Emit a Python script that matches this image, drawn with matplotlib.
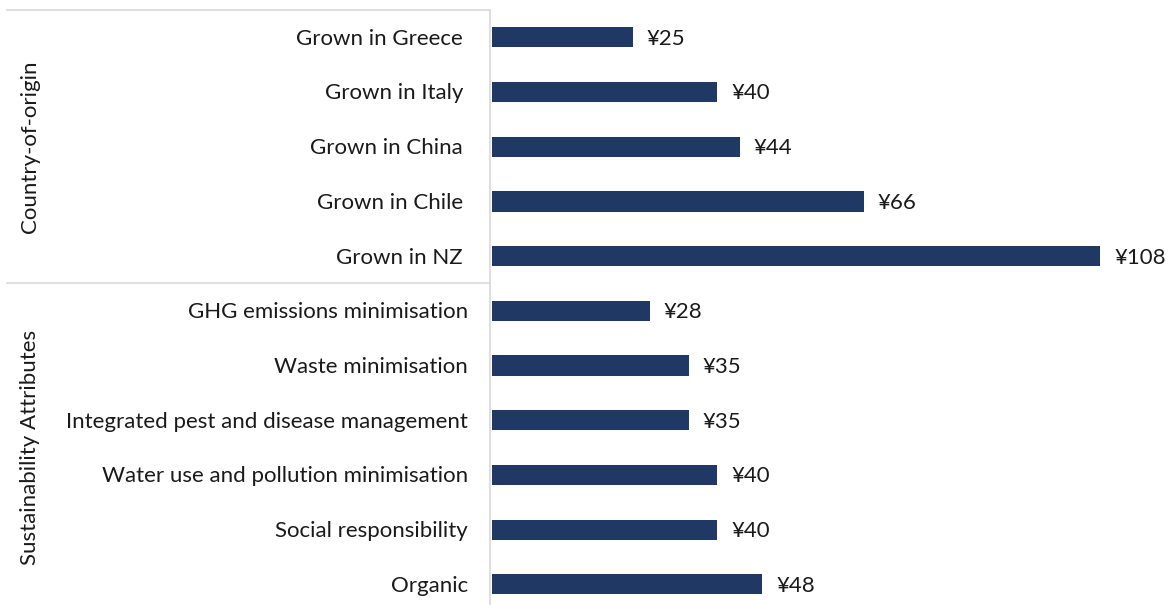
import numpy as np
import matplotlib.pyplot as plt
from matplotlib.lines import Line2D
from matplotlib.transforms import blended_transform_factory

plt.rcParams['font.family'] = ['Lato', 'DejaVu Sans']

# Willingness to pay premiums, grouped as in the survey
origin_labels = ["Grown in Greece", "Grown in Italy", "Grown in China",
                 "Grown in Chile", "Grown in NZ"]
origin_values = [25, 40, 44, 66, 108]

attribute_labels = ["GHG emissions minimisation", "Waste minimisation",
                    "Integrated pest and disease management",
                    "Water use and pollution minimisation",
                    "Social responsibility", "Organic"]
attribute_values = [28, 35, 35, 40, 40, 48]

group_names = ["Country-of-origin", "Sustainability Attributes"]

labels = origin_labels + attribute_labels
values = origin_values + attribute_values
ypos = np.arange(len(values))

W, H = 1170, 605
fig = plt.figure(figsize=(W / 100, H / 100), dpi=100)
ax = fig.add_axes([492 / W, 0, 1 - 492 / W, 1 - 10 / H])

bar_color = "#203864"
txt_color = "#1a1a1a"
fs = 16

ax.barh(ypos, values, height=0.37, color=bar_color)
ax.set_xlim(0, 120.4)
ax.set_ylim(-0.5 + 595 / 54.7, -0.5)

for y, v in zip(ypos, values):
    ax.annotate(f"¥{v}", (v, y), xytext=(10, -1), textcoords="offset points",
                va="center", ha="left", fontsize=fs, color=txt_color)

ax.set_xticks([])
ax.set_yticks([])
for s in ax.spines.values():
    s.set_visible(False)

# category labels to the left of the axis
tr = blended_transform_factory(fig.transFigure, ax.transData)
n_origin = len(origin_labels)
for i, lab in enumerate(labels):
    x_right = 463 if i < n_origin else 468
    ax.annotate(lab, (x_right / W, i), xycoords=tr, xytext=(0, -1),
                textcoords="offset points", ha="right", va="center",
                fontsize=fs, color=txt_color)

# group labels
ax.text(30 / W, (n_origin - 1) / 2, group_names[0], transform=tr, rotation=90,
        ha="center", va="center", fontsize=fs, color=txt_color)
ax.text(30 / W, n_origin + (len(attribute_labels) - 1) / 2, group_names[1],
        transform=tr, rotation=90, ha="center", va="center", fontsize=fs,
        color=txt_color)

# separator lines
grid_col = "#d9d9d9"
fig.add_artist(Line2D([490 / W, 490 / W], [0, 1 - 10 / H], transform=fig.transFigure,
                      color=grid_col, lw=1.2))
for yy in [10, 283]:
    fig.add_artist(Line2D([7 / W, 490 / W], [1 - yy / H, 1 - yy / H],
                          transform=fig.transFigure, color=grid_col, lw=1.2))

fig.savefig("out.png", dpi=100)
